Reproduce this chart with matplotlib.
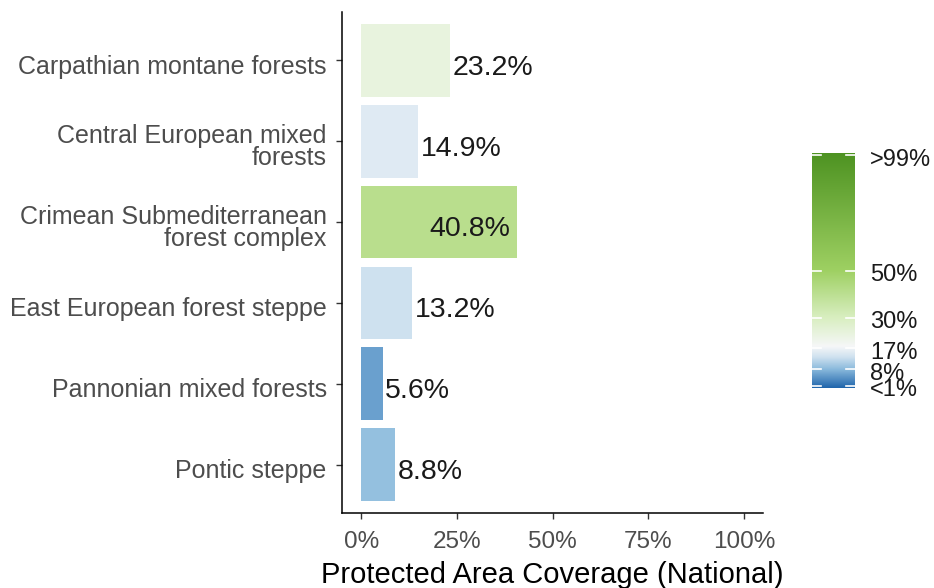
import numpy as np
import matplotlib
matplotlib.use("Agg")
from matplotlib import pyplot as plt
from matplotlib.colors import LinearSegmentedColormap
from matplotlib.transforms import ScaledTranslation

ecoregions = [
    "Carpathian montane forests",
    "Central European mixed\nforests",
    "Crimean Submediterranean\nforest complex",
    "East European forest steppe",
    "Pannonian mixed forests",
    "Pontic steppe",
]
coverage = [23.2, 14.9, 40.8, 13.2, 5.6, 8.8]

x_ticks = [0, 25, 50, 75, 100]
x_tick_labels = ["0%", "25%", "50%", "75%", "100%"]

legend_breaks = [1, 8, 17, 30, 50, 99]
legend_labels = ["<1%", "8%", "17%", "30%", "50%", ">99%"]

# diverging fill scale: blue below target, white around 17 %, green above
cmap = LinearSegmentedColormap.from_list(
    "coverage",
    [(0.00, "#2166ac"), (0.08, "#8cbbdd"), (0.13, "#cfe1ef"), (0.175, "#f6f7f8"),
     (0.30, "#d8eebf"), (0.50, "#9ed062"), (1.00, "#4d9221")],
)

plt.rcParams["font.family"] = ["Liberation Sans", "DejaVu Sans"]

fig = plt.figure(figsize=(9.34, 5.88), dpi=100)
ax = fig.add_axes([342 / 934, 1 - 513 / 588, (763 - 342) / 934, (513 - 12) / 588])

n = len(ecoregions)
ypos = np.arange(n, 0, -1)
colors = [cmap(v / 100) for v in coverage]
ax.barh(ypos, coverage, height=0.9, color=colors, zorder=2)

for y, v in zip(ypos, coverage):
    if v > 30:
        ax.annotate(f"{v}%", (v, y), xytext=(-5, -5.2), textcoords="offset points",
                    ha="right", va="center", fontsize=20.5, color="#1a1a1a")
    else:
        ax.annotate(f"{v}%", (v, y), xytext=(2, -5.2), textcoords="offset points",
                    ha="left", va="center", fontsize=20.5, color="#1a1a1a")

ax.set_xlim(-5, 105)
ax.set_ylim(0.4, n + 0.6)
ax.set_xticks(x_ticks)
ax.set_xticklabels(x_tick_labels)
ax.set_yticks(ypos)
ax.set_yticklabels(ecoregions, linespacing=0.9)
ax.tick_params(axis="both", length=4, width=1, color="#333333", labelcolor="#4d4d4d")
ax.tick_params(axis="y", labelsize=18, pad=7)
ax.tick_params(axis="x", labelsize=17.5, pad=9)
shift = ScaledTranslation(0, -4 / 100, fig.dpi_scale_trans)
for lab in ax.get_yticklabels():
    lab.set_transform(lab.get_transform() + shift)
for side in ["top", "right"]:
    ax.spines[side].set_visible(False)
for side in ["left", "bottom"]:
    ax.spines[side].set_linewidth(1.1)
    ax.spines[side].set_color("black")
ax.set_xlabel("Protected Area Coverage (National)", fontsize=21, labelpad=6)

# colour bar legend
cax = fig.add_axes([812 / 934, 1 - 388 / 588, 43 / 934, (388 - 153) / 588])
grad = np.linspace(0, 100, 256).reshape(-1, 1)
cax.imshow(grad, aspect="auto", cmap=cmap, origin="lower",
           extent=[0, 1, 0, 100], vmin=0, vmax=100)
for b in legend_breaks:
    cax.plot([0, 0.2], [b, b], color="white", lw=1.2)
    cax.plot([0.8, 1], [b, b], color="white", lw=1.2)
cax.set_xlim(0, 1)
cax.set_ylim(0, 100)
cax.set_xticks([])
cax.yaxis.tick_right()
cax.set_yticks(legend_breaks)
cax.set_yticklabels(legend_labels)
cax.tick_params(axis="y", length=0, pad=11, labelsize=17, labelcolor="#1a1a1a")
for lab in cax.get_yticklabels():
    lab.set_transform(lab.get_transform() + ScaledTranslation(0, -2 / 100, fig.dpi_scale_trans))
for s in cax.spines.values():
    s.set_visible(False)

fig.savefig("out.png", dpi=100)
